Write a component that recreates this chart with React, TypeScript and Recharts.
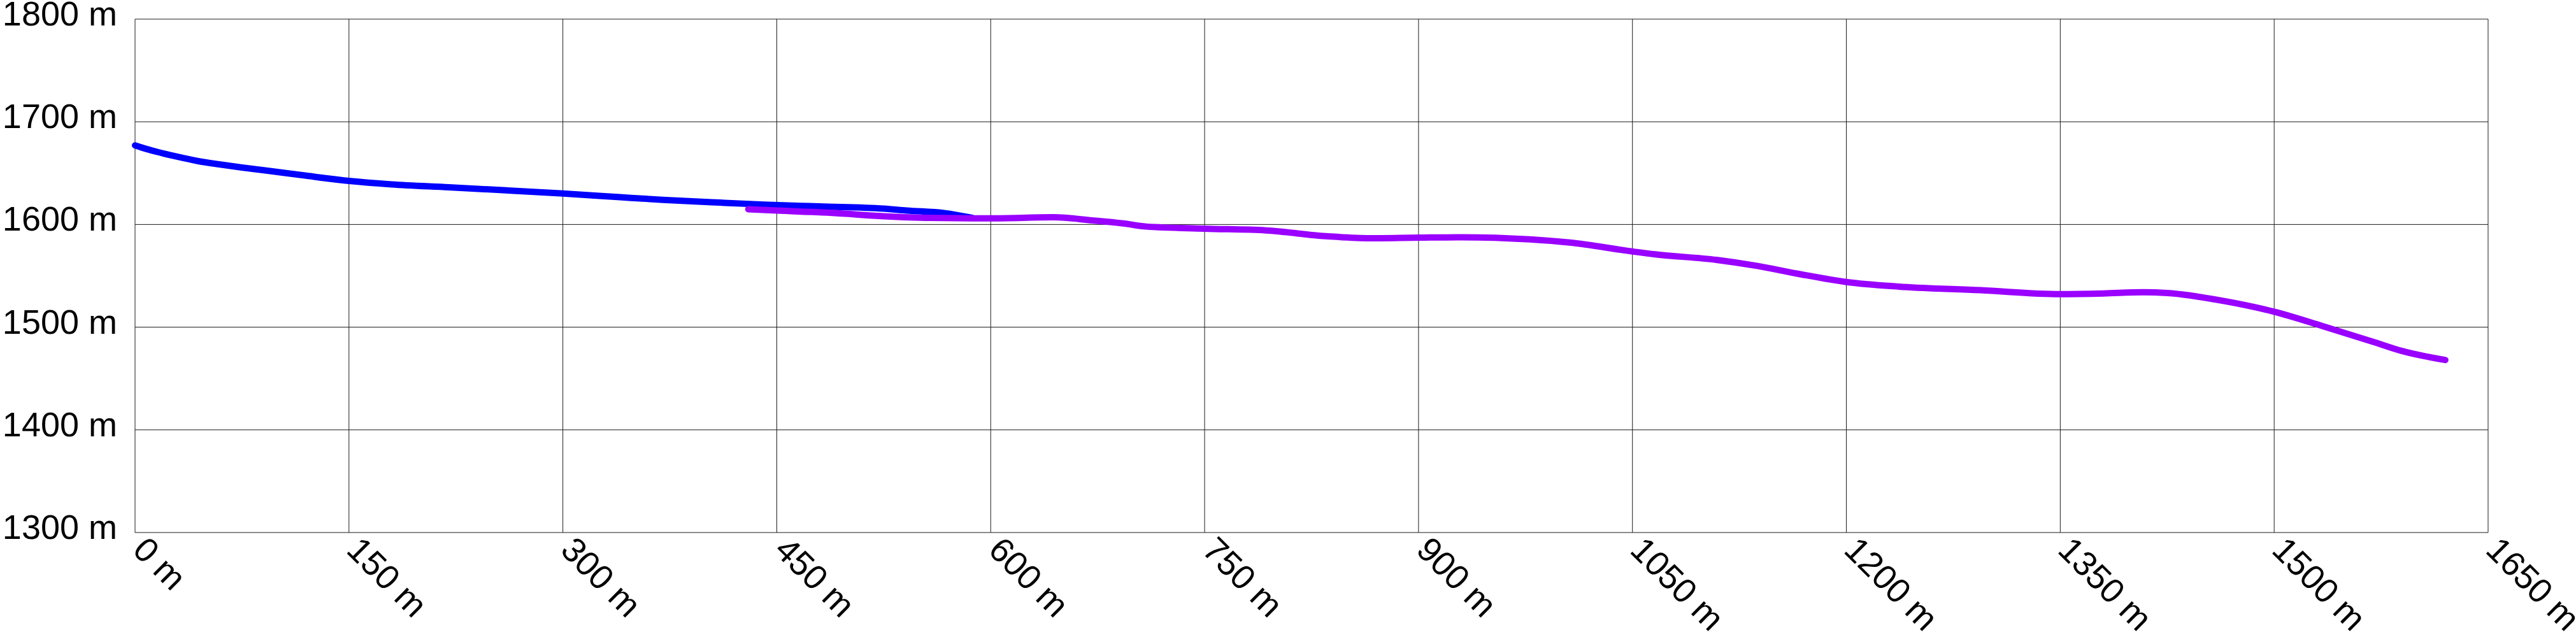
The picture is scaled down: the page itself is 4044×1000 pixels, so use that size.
import React from 'react';
import { LineChart, Line, XAxis, YAxis, CartesianGrid } from 'recharts';

// elevation profile, distance (m) vs altitude (m)
const blueDist = [0, 8, 16, 25, 33, 45, 59, 75, 93, 120, 150, 180, 220, 260, 300, 340, 370, 410, 441, 480, 525, 541, 568, 587];
const blueAlt = [1677, 1673.5, 1670.5, 1667.5, 1665, 1661.5, 1658.6, 1655.5, 1652.4, 1647.5, 1642.4, 1639, 1636.2, 1633.3, 1630.2, 1626.6, 1624, 1621.3, 1619.4, 1617.6, 1615.5, 1613.6, 1611, 1606.5];

const purpleDist = [430, 450, 489, 525, 557, 600, 644, 671, 693, 709, 750, 793, 835, 864, 900, 930, 978, 1006, 1050, 1066, 1109, 1138, 1166, 1200, 1237, 1294, 1350, 1380, 1408, 1425, 1465, 1500, 1534, 1571, 1589, 1620];
const purpleAlt = [1614.9, 1613.6, 1611.2, 1608, 1606.4, 1606, 1607, 1604, 1601, 1598, 1595.9, 1594.2, 1588.6, 1586.6, 1587.2, 1587.6, 1585.5, 1582.4, 1573.7, 1570.9, 1565.5, 1559.5, 1552, 1544, 1539.5, 1536, 1532.2, 1532.8, 1534, 1533.3, 1525.4, 1515, 1501, 1485, 1477, 1468];

const xTicks = [0, 150, 300, 450, 600, 750, 900, 1050, 1200, 1350, 1500, 1650];
const yTicks = [1300, 1400, 1500, 1600, 1700, 1800];

const blueData = blueDist.map((d, i) => ({ d, alt: blueAlt[i] }));
const purpleData = purpleDist.map((d, i) => ({ d, alt: purpleAlt[i] }));

const FONT = '"Liberation Sans", Arial, sans-serif';

const XTick = (props: any) => {
  const { x, y, payload } = props;
  return (
    <g transform={`translate(${x - 6}, ${y + 22}) rotate(45)`}>
      <text x={0} y={0} textAnchor="start" fontSize={54} fontFamily={FONT} fill="#000">
        {payload.value} m
      </text>
    </g>
  );
};

const YTick = (props: any) => {
  const { y, payload } = props;
  return (
    <text x={184} y={y + 10} textAnchor="end" fontSize={54} fontFamily={FONT} fill="#000">
      {payload.value} m
    </text>
  );
};

export default function App() {
  return (
    <div style={{ position: 'absolute', left: 0, top: 0, width: 4044, height: 1000, background: '#fff' }}>
      <LineChart width={4044} height={1000} margin={{ top: 30, right: 138, left: 0, bottom: 0 }}>
        <CartesianGrid stroke="#1a1a1a" strokeWidth={1} />
        <XAxis
          type="number"
          dataKey="d"
          domain={[0, 1650]}
          ticks={xTicks}
          axisLine={false}
          tickLine={false}
          height={164}
          interval={0}
          tick={<XTick />}
        />
        <YAxis
          type="number"
          domain={[1300, 1800]}
          ticks={yTicks}
          axisLine={false}
          tickLine={false}
          width={212}
          interval={0}
          tick={<YTick />}
        />
        <Line data={blueData} dataKey="alt" type="monotone" stroke="#0000ff" strokeWidth={10} strokeLinecap="round" dot={false} isAnimationActive={false} />
        <Line data={purpleData} dataKey="alt" type="monotone" stroke="#9900ff" strokeWidth={10} strokeLinecap="round" dot={false} isAnimationActive={false} />
      </LineChart>
    </div>
  );
}
